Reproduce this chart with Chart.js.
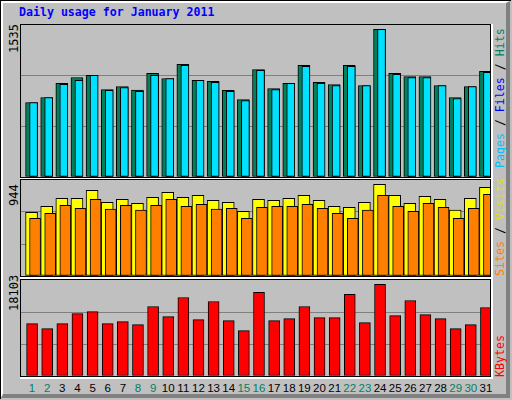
<!DOCTYPE html>
<html><head><meta charset="utf-8">
<script src="https://cdn.jsdelivr.net/npm/chart.js@4"></script>
<style>
body{margin:0;background:#c0c0c0;}
#frame{position:absolute;left:0;top:0;width:510px;height:398px;border-top:1px solid #000;border-left:1px solid #000;background:#c0c0c0;}
#bevel{position:absolute;left:0;top:0;width:503px;height:391px;border-top:2px solid #fff;border-left:2px solid #fff;border-right:4px solid #808080;border-bottom:4px solid #808080;}
.panel{position:absolute;left:20px;width:469px;border:1px solid #000;box-shadow:1px 1px 0 1px #fff;}
.cv{position:absolute;}
.t{position:absolute;font-family:"DejaVu Sans Mono",monospace;white-space:nowrap;}
.rot{transform-origin:0 0;transform:rotate(-90deg);}
.d{position:absolute;top:382px;font-family:"Liberation Sans",sans-serif;font-size:11.5px;transform:translateX(-50%);}
</style></head><body>
<div id="frame"><div id="bevel"></div></div>
<div class="t" style="left:19px;top:5px;font-size:11.6px;font-weight:bold;color:#0000ff;">Daily usage for January 2011</div>
<div class="panel" style="top:24px;height:152px;"></div>
<div class="panel" style="top:179px;height:96px;"></div>
<div class="panel" style="top:279px;height:96px;"></div>
<div class="cv" style="left:21px;top:25px;width:469px;height:152px;"><canvas id="c1"></canvas></div>
<div class="cv" style="left:21px;top:180px;width:469px;height:96px;"><canvas id="c2"></canvas></div>
<div class="cv" style="left:21px;top:280px;width:469px;height:96px;"><canvas id="c3"></canvas></div>
<div id="daylabels"></div>
<div class="t rot" id="l1" style="left:7px;top:53px;font-size:12px;color:#000;"></div>
<div class="t rot" id="l2" style="left:7px;top:206px;font-size:12px;color:#000;"></div>
<div class="t rot" id="l3" style="left:7px;top:311px;font-size:12px;color:#000;"></div>
<div class="t rot" style="left:493px;top:168px;font-size:11.6px;"><span style="color:#00c0ff">Pages</span> / <span style="color:#0000ff">Files</span> / <span style="color:#00805c">Hits</span></div>
<div class="t rot" style="left:493px;top:276px;font-size:11.6px;"><span style="color:#ff8000">Sites</span> / <span style="color:#e0e000">Visits</span></div>
<div class="t rot" style="left:493px;top:377px;font-size:11.6px;color:#ff0000;">KBytes</div>
<script>
const days=['1','2','3','4','5','6','7','8','9','10','11','12','13','14','15','16','17','18','19','20','21','22','23','24','25','26','27','28','29','30','31'];
const weekendDays=[1,2,8,9,15,16,22,23,29,30];
const hits=[752,803,945,1005,1026,884,914,877,1046,995,1137,975,965,874,783,1086,894,945,1127,955,934,1127,924,1491,1046,1015,1015,924,803,914,1066];
const pages=[752,803,935,975,1026,874,904,864,1026,995,1127,975,955,864,772,1076,884,945,1117,945,924,1117,924,1491,1036,1005,1005,924,793,914,1056];
const files=[685,725,823,894,945,776,813,786,938,894,1015,840,887,830,675,968,823,854,941,863,853,941,823,1380,887,927,907,843,705,806,988];
const visits=[627,686,764,764,843,725,754,715,774,823,774,794,745,725,637,754,745,764,794,745,686,676,725,901,794,715,784,754,647,764,872];
const sites=[568,617,696,666,754,657,696,647,696,754,686,705,657,666,568,676,686,686,705,666,617,568,647,794,686,637,715,676,568,666,804];
const kbytes=[9874,8925,9874,11773,12153,9874,10254,9685,13102,11204,14811,10634,14052,10444,8545,15761,10444,10824,13102,11014,11014,15381,10064,17280,11394,14242,11583,10824,8925,9685,12913];
const maxLabels=['1535','944','18103'];
const maxVals=[1535,944,18103];
document.getElementById('l1').textContent=maxLabels[0];
document.getElementById('l2').textContent=maxLabels[1];
document.getElementById('l3').textContent=maxLabels[2];

const shift={id:'shift',
 beforeDatasetDraw(ch,a){const dx=ch.data.datasets[a.index].dx||0;ch.ctx.save();ch.ctx.translate(dx,0);},
 afterDatasetDraw(ch){ch.ctx.restore();}};

function make(id,max,datasets){
 return new Chart(document.getElementById(id),{type:'bar',
  data:{labels:days,datasets},
  plugins:[shift],
  options:{responsive:true,maintainAspectRatio:false,animation:false,
   layout:{padding:0},
   plugins:{legend:{display:false},tooltip:{enabled:false}},
   datasets:{bar:{grouped:false,borderWidth:1,borderColor:'#000',borderSkipped:false}},
   scales:{
    x:{display:false},
    y:{min:0,max:max,display:true,border:{display:false},
       afterBuildTicks:s=>{s.ticks=[0,max/3,2*max/3,max].map(v=>({value:v}));},
       ticks:{display:false},
       grid:{drawTicks:false,color:c=>(c.index===1||c.index===2)?'#808080':'rgba(0,0,0,0)',lineWidth:1}}
   }}});
}
make('c1',maxVals[0],[
 {data:pages,backgroundColor:'#00e0ff',barThickness:8,dx:5},
 {data:files,backgroundColor:'#0000ff',barThickness:4,dx:3.5},
 {data:hits,backgroundColor:'#00805c',barThickness:12,dx:3}
]);
make('c2',maxVals[1],[
 {data:sites,backgroundColor:'#ff8000',barThickness:11,dx:6.5},
 {data:visits,backgroundColor:'#ffff00',barThickness:12,dx:3}
]);
const c3=make('c3',maxVals[2],[
 {data:kbytes,backgroundColor:'#ff0000',barThickness:11,dx:3.5}
]);
const xs=c3.scales.x, box=document.getElementById('daylabels');
days.forEach((d,i)=>{
 const s=document.createElement('div');s.className='d';s.textContent=d;
 s.style.left=(21+xs.getPixelForValue(i)+3.5)+'px';
 s.style.color=weekendDays.includes(i+1)?'#008060':'#000';
 box.appendChild(s);
});
</script>
</body></html>
